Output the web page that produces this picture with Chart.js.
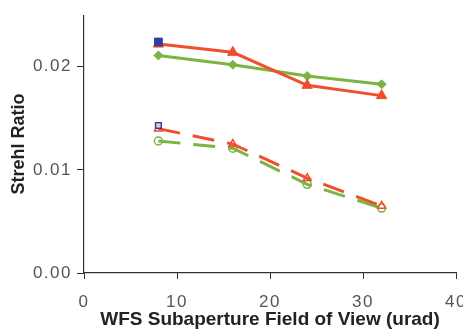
<!DOCTYPE html>
<html><head><meta charset="utf-8">
<script src="https://cdn.jsdelivr.net/npm/chart.js@4.4.1/dist/chart.umd.min.js"></script>
<style>html,body{margin:0;padding:0;background:#fff}#wrap{width:463px;height:333px}</style>
</head><body><div id="wrap"><canvas id="c" width="463" height="333"></canvas></div>
<script>
const fovX = [8, 16, 24, 32];
const redSolid = [0.0222, 0.0214, 0.0182, 0.0172];
const greenSolid = [0.0211, 0.0202, 0.0191, 0.0183];
const redDashed = [0.0140, 0.0125, 0.0092, 0.0065];
const greenDashed = [0.0128, 0.0121, 0.0086, 0.0063];
const blueFilled = [[8, 0.0224]];
const blueOpen = [[8, 0.0143]];
const xTicks = [0, 10, 20, 30, 40];
const yTicks = [0, 0.01, 0.02];

const RED = '#F04E2C', GREEN = '#7BB443', BLUE = '#2F3F9E';
const pts = (xs, ys) => xs.map((x, i) => ({x: x, y: ys[i]}));
const pairs = a => a.map(p => ({x: p[0], y: p[1]}));

const spacing = {
  id: 'tickSpacing',
  beforeDraw(chart) {
    ['x', 'y'].forEach(id => {
      const s = chart.scales[id];
      if (s && !s._spaced) {
        const orig = s.drawLabels;
        s.drawLabels = function (a) {
          const ctx = this.ctx;
          ctx.save();
          ctx.letterSpacing = '1.5px';
          orig.call(this, a);
          ctx.restore();
        };
        s._spaced = true;
      }
    });
  }
};

new Chart(document.getElementById('c'), {
  type: 'line',
  plugins: [spacing],
  data: {
    datasets: [
      {data: pairs(blueFilled), showLine: false, pointStyle: 'rect', pointRadius: 5.5,
       backgroundColor: BLUE, borderColor: BLUE, borderWidth: 1},
      {data: pairs(blueOpen), showLine: false, pointStyle: 'rect', pointRadius: 4,
       backgroundColor: 'rgba(255,255,255,0.6)', borderColor: BLUE, borderWidth: 1.5},
      {data: pts(fovX, redSolid), borderColor: RED, backgroundColor: RED, borderWidth: 3,
       pointStyle: 'triangle', pointRadius: 6, pointBorderWidth: 1},
      {data: pts(fovX, greenSolid), borderColor: GREEN, backgroundColor: GREEN, borderWidth: 3,
       pointStyle: 'rectRot', pointRadius: 4.5, pointBorderWidth: 1},
      {data: pts(fovX, redDashed), borderColor: RED, backgroundColor: 'rgba(0,0,0,0)', borderWidth: 3,
       borderDash: [22, 13], pointStyle: 'triangle', pointRadius: 4.5, pointBorderWidth: 1.5},
      {data: pts(fovX, greenDashed), borderColor: GREEN, backgroundColor: 'rgba(0,0,0,0)', borderWidth: 3,
       borderDash: [22, 13], pointStyle: 'circle', pointRadius: 4, pointBorderWidth: 1.5}
    ]
  },
  options: {
    responsive: false, animation: false,
    layout: {padding: {top: 11, right: 0, left: 0, bottom: 0}},
    elements: {line: {tension: 0}},
    plugins: {legend: {display: false}, tooltip: {enabled: false}},
    scales: {
      x: {
        type: 'linear', min: 0, max: 40,
        afterBuildTicks: s => { s.ticks = xTicks.map(v => ({value: v})); },
        afterFit: s => { s.height = 60; s.paddingRight = 6; s.paddingLeft = 0; },
        ticks: {color: '#555', font: {family: 'Liberation Sans', size: 17}, padding: 13,
                maxRotation: 0, autoSkip: false, callback: v => String(v)},
        grid: {drawOnChartArea: false, drawTicks: true, tickLength: 6, color: '#333'},
        border: {display: true, color: '#333', width: 1.2},
        title: {display: true, text: 'WFS Subaperture Field of View (urad)', color: '#222',
                font: {family: 'Liberation Sans', size: 19, weight: 'bold'}, padding: {top: 0, bottom: 2}}
      },
      y: {
        type: 'linear', min: 0, max: 0.025,
        afterBuildTicks: s => { s.ticks = yTicks.map(v => ({value: v})); },
        afterFit: s => { s.width = 84; },
        ticks: {color: '#555', font: {family: 'Liberation Sans', size: 17}, padding: 5,
                callback: v => v.toFixed(2)},
        grid: {drawOnChartArea: false, drawTicks: true, tickLength: 7, color: '#333'},
        border: {display: true, color: '#333', width: 1.2},
        title: {display: true, text: 'Strehl Ratio', color: '#222',
                font: {family: 'Liberation Sans', size: 18, weight: 'bold'}, padding: {top: 8, bottom: 4}}
      }
    }
  }
});
</script></body></html>
